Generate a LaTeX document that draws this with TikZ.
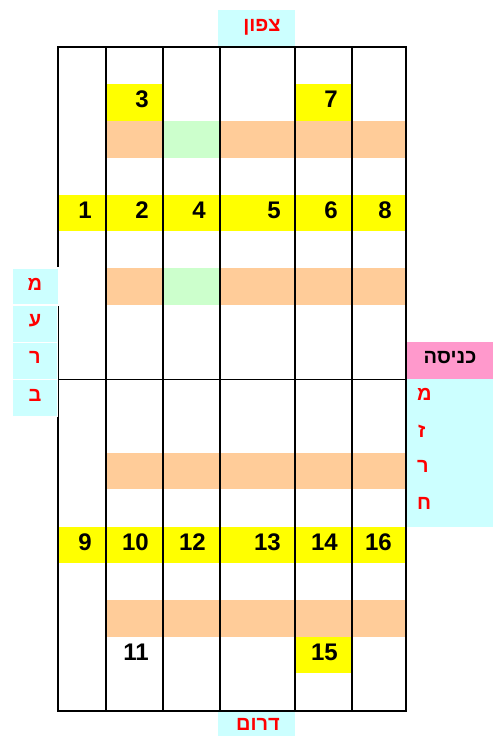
\documentclass[tikz,border=0pt]{standalone}
\usepackage{fontspec}
\setmainfont{Liberation Sans}
\newfontfamily\hebfont[Script=Hebrew, BoldFont={Liberation Sans Bold}]{Liberation Sans}
\TeXXeTstate=1
\usepackage{tikz}
\usetikzlibrary{positioning}

\definecolor{bandyellow}{HTML}{FFFF00}
\definecolor{bandorange}{HTML}{FFCC99}
\definecolor{bandgreen}{HTML}{CCFFCC}
\definecolor{dircyan}{HTML}{CCFFFF}
\definecolor{gatepink}{HTML}{FF99CC}

\begin{document}
\begin{tikzpicture}[
  x=1pt, y=-1pt,
  num/.style={font=\fontsize{24}{24}\selectfont\bfseries, anchor=east, inner sep=0pt},
  dirtext/.style={font=\hebfont\fontsize{20}{20}\selectfont\bfseries, text=red, inner sep=0pt},
  dirbox/.style={fill=dircyan, draw=white, line width=0.6pt},
  wall/.style={line width=1.6pt},
]
\useasboundingbox (0,0) rectangle (493,736);

% Bands of seats
\fill[bandyellow] (106,84) rectangle (163,121);
\fill[bandyellow] (295,84) rectangle (352,121);
\fill[bandorange] (106,121) rectangle (406,158);
\fill[bandgreen] (163,121) rectangle (220,158);
\fill[bandyellow] (58,195) rectangle (406,231);
\fill[bandorange] (106,268) rectangle (406,305);
\fill[bandgreen] (163,268) rectangle (220,305);
\fill[bandorange] (106,453) rectangle (406,489);
\fill[bandyellow] (58,527) rectangle (406,563);
\fill[bandorange] (106,600) rectangle (406,637);
\fill[bandyellow] (295,637) rectangle (352,673);

% East side: entrance and direction
\fill[gatepink] (407,342) rectangle (493,379);
\fill[dircyan] (407,379) rectangle (493,527);

% Walls
\draw[wall] (58,47) rectangle (406,711);
\foreach \x in {106,163,220,295,352}{
  \draw[wall] (\x,47) -- (\x,711);
}
\draw[line width=1pt] (58,379) -- (406,379);

% West side: direction letters
\foreach \y in {305,342,379}{
  \draw[dirbox] (12,\y) rectangle (57,\y+37);
}
\draw[dirbox, line width=1.5pt] (12,268) rectangle (58.5,305);

% North and south
\fill[dircyan] (218,10) rectangle (295,46);
\fill[dircyan] (218,712) rectangle (295,736);
\node[dirtext] (north) at (262,27) {\beginR צפון\endR};
\node[dirtext] (south) at (258,724) {\beginR דרום\endR};

\node[dirtext] (w1) at (35,284) {מ};
\node[dirtext] (w2) at (35,321) {ע};
\node[dirtext] (w3) at (35,357) {ר};
\node[dirtext] (w4) at (35,395) {ב};

\node[dirtext, text=black] (gate) at (450,358) {\beginR כניסה\endR};
\node[dirtext, anchor=west] (e1) at (417,394) {מ};
\node[dirtext, anchor=west] (e2) at (418,431) {ז};
\node[dirtext, anchor=west] (e3) at (417,466) {ר};
\node[dirtext, anchor=west] (e4) at (417,503) {ח};

% Seat numbers
\foreach \lbl/\x in {1/92,2/149,4/206,5/281,6/338,8/392}{
  \node[num] (s\lbl) at (\x,210) {\lbl};
}
\foreach \lbl/\x in {9/92,10/149,12/206,13/281,14/338,16/392}{
  \node[num] (s\lbl) at (\x,542) {\lbl};
}
\node[num] (s3) at (149,99.5) {3};
\node[num] (s7) at (338,99.5) {7};
\node[num] (s11) at (149,652) {11};
\node[num] (s15) at (338,652) {15};
\end{tikzpicture}
\end{document}
